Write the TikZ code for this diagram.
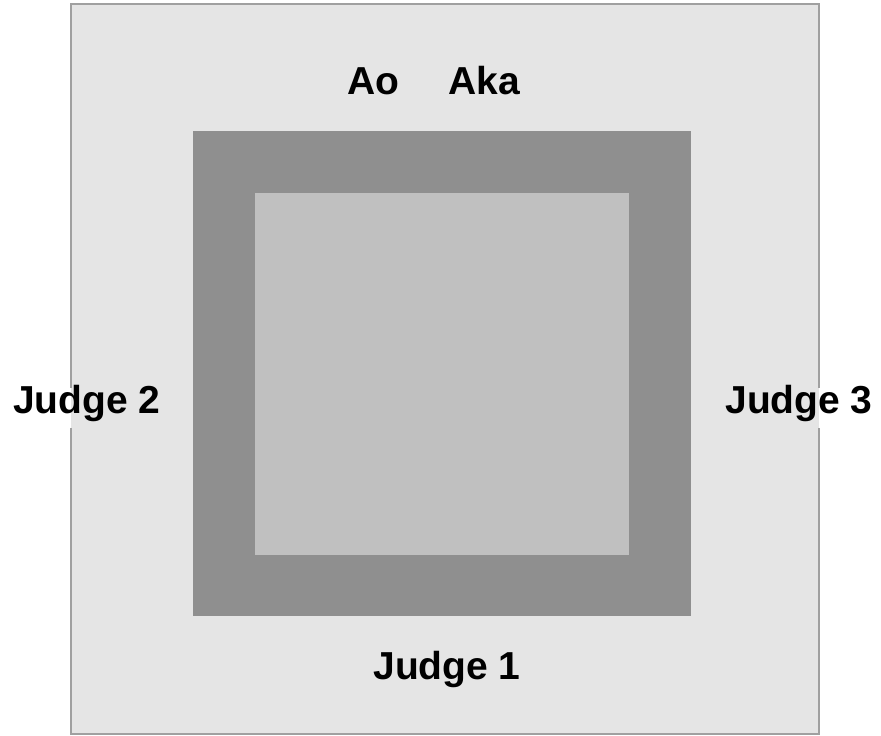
\documentclass[tikz,border=0pt]{standalone}
\usepackage{fontspec}
\setmainfont{Liberation Sans}
\usepackage{tikz}
\usetikzlibrary{positioning}
\usepackage{xcolor}
\definecolor{matfill}{HTML}{E5E5E5}
\definecolor{matline}{HTML}{A0A0A0}
\definecolor{safefill}{HTML}{8F8F8F}
\definecolor{areafill}{HTML}{C0C0C0}

\begin{document}
\begin{tikzpicture}[x=1pt, y=-1pt,
  area/.style={rectangle, inner sep=0pt, outer sep=0pt},
  lbl/.style={inner sep=0pt, font=\fontsize{39}{46}\selectfont\bfseries}
]
\useasboundingbox (0,0) rectangle (881,736);

% floor areas
\node[area, draw=matline, line width=1.5pt, fill=matfill,
  minimum width=748pt, minimum height=730pt] (mat) at (445,369) {};
\node[area, fill=safefill, minimum width=498pt, minimum height=485pt] (safety) at (442,373.5) {};
\node[area, fill=areafill, minimum width=374pt, minimum height=362pt] (comp) at (442,374) {};

% gaps in the mat edge behind the side judges
\fill[white] (70.1,388) rectangle (71,428);
\fill[matfill] (71,388) rectangle (71.9,428);
\fill[matfill] (818.1,388) rectangle (819,428);
\fill[white] (819,388) rectangle (819.9,428);

% positions
\node[lbl] (ao) at (373,81) {Ao};
\node[lbl] (aka) at (484,81) {Aka};
\node[lbl] (judgea) at (447,669) {Judge 1};
\node[lbl] (judgeb) at (87,403) {Judge 2};
\node[lbl] (judgec) at (799,403) {Judge 3};
\end{tikzpicture}
\end{document}
